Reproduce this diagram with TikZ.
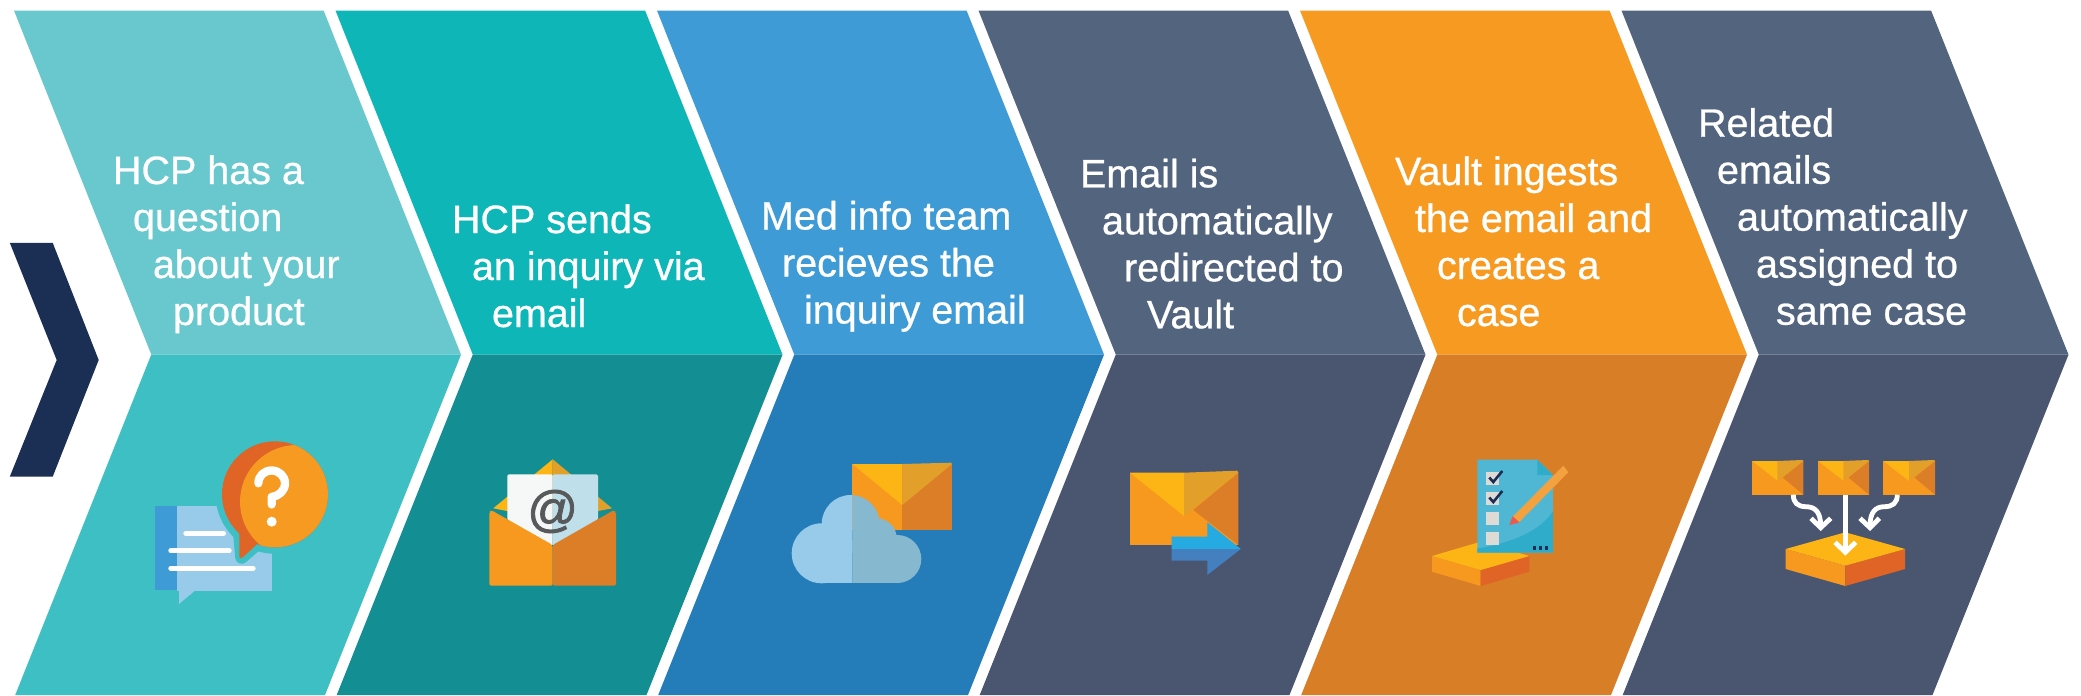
\documentclass[tikz,border=0pt]{standalone}
\usepackage{fontspec}
\setmainfont{Liberation Sans}
\newfontfamily\labelfont[FakeBold=0.7]{Liberation Sans}
\newfontfamily\atfont[FakeBold=1.6]{Liberation Sans}
\definecolor{cAt}{HTML}{69C8CE}\definecolor{cAb}{HTML}{3DBFC4}
\definecolor{cBt}{HTML}{0EB6B7}\definecolor{cBb}{HTML}{138E92}
\definecolor{cCt}{HTML}{3E9BD6}\definecolor{cCb}{HTML}{247DB9}
\definecolor{cDt}{HTML}{53647F}\definecolor{cDb}{HTML}{4A566F}
\definecolor{cEt}{HTML}{F79A21}\definecolor{cEb}{HTML}{D87E27}
\definecolor{navy}{HTML}{1B2F55}
\definecolor{flapL}{HTML}{FDB515}\definecolor{flapR}{HTML}{E2A02A}
\definecolor{bodyL}{HTML}{F7981F}\definecolor{bodyR}{HTML}{DB7E27}
\definecolor{burnt}{HTML}{DF6426}
\definecolor{cloudL}{HTML}{97CBE9}\definecolor{cloudR}{HTML}{86B8CF}
\definecolor{docblue}{HTML}{3E9BD6}
\definecolor{sheetR}{HTML}{BFDFEA}\definecolor{sheetL}{HTML}{F6F8F8}
\definecolor{grayat}{HTML}{58595B}
\definecolor{clipA}{HTML}{4FB7D3}\definecolor{clipB}{HTML}{30ACCB}
\definecolor{boxgray}{HTML}{DEDAD6}
\definecolor{pencil}{HTML}{F4A23F}\definecolor{pencilred}{HTML}{EB5A4C}
\definecolor{arrowA}{HTML}{25AAE1}\definecolor{arrowB}{HTML}{447FC0}
\tikzset{
  steptext/.style={anchor=north west,inner sep=0pt,outer sep=0pt,align=left,text=white,
    font=\labelfont\fontsize{39.5}{47}\selectfont},
  whiteline/.style={draw=white,line width=4.8pt,line cap=butt,line join=miter},
  docline/.style={draw=white,line width=5pt,line cap=round},
}
% #1 left x of the chevron, #2 upper colour, #3 lower colour
\newcommand{\chevron}[3]{%
  \fill[#2] (#1,10.6) -- (#1+309.6,10.6) -- (#1+447,354.6) -- (#1+137.3,354.6) -- cycle;
  \fill[#3] (#1+137.3,354.6) -- (#1+447,354.6) -- (#1+311,695) -- (#1+1.2,695) -- cycle;
}
% flaps of an envelope: #1 left, #2 centre, #3 right, #4 top left, #5 top right, #6 apex y
\newcommand{\flaps}[6]{%
  \fill[flapL] (#1,#4) -- (#2,#4) -- (#2,#6) -- cycle;
  \fill[flapR] (#2,#4) -- (#3-1,#5) -- (#3,#4) -- (#2,#6) -- cycle;
}
% small envelope, #1 left, #2 right, #3 centre
\newcommand{\minienvelope}[3]{%
  \fill[bodyL] (#1,461) rectangle (#2,494.7);
  \fill[bodyR] (#2,461) -- (#2-20.5,477.5) -- (#2,494.7) -- cycle;
  \flaps{#1}{#3}{#2}{461}{460}{481}
}
\newcommand{\cloudshape}{%
  \fill (821.7,553.3) circle[radius=30];
  \fill (850.7,524) circle[radius=29];
  \fill (876.7,538.3) circle[radius=20];
  \fill (897.3,559) circle[radius=24];
  \fill (821.7,540) rectangle (897.3,583.3);
}
% isometric box: #1 left, #2 centre, #3 right, #4 back y, #5 side y, #6 front y, #7 side bottom, #8 front bottom
\newcommand{\slab}[8]{%
  \fill[bodyL] (#1,#5) -- (#2,#6) -- (#2,#8) -- (#1,#7) -- cycle;
  \fill[burnt] (#2,#6) -- (#3,#5) -- (#3,#7) -- (#2,#8) -- cycle;
  \fill[flapL] (#1,#5) -- (#2,#4) -- (#3,#5) -- (#2,#6) -- cycle;
}
\begin{document}
\begin{tikzpicture}[x=1pt,y=-1pt]
\useasboundingbox (0,0) rectangle (2081,696);
\fill[white] (0,0) rectangle (2081,696);

% lead-in chevron
\fill[navy] (9.8,242.8) -- (52.7,242.8) -- (98.7,360) -- (52.7,476.7) -- (9.8,476.7) -- (56.7,360) -- cycle;

% chevrons
\chevron{14}{cAt}{cAb}
\chevron{335.5}{cBt}{cBb}
\chevron{657}{cCt}{cCb}
\chevron{978.5}{cDt}{cDb}
\chevron{1300}{cEt}{cEb}
\chevron{1621.5}{cDt}{cDb}

% texts
\node[steptext] (t1) at (113,154) {\rule{0pt}{30pt}HCP has a\\\hspace*{20pt}question\\\hspace*{40pt}about your\\\hspace*{60pt}product};
\node[steptext] (t2) at (452,203) {\rule{0pt}{30pt}HCP sends\\\hspace*{20pt}an inquiry via\\\hspace*{40pt}email};
\node[steptext] (t3) at (761,199.5) {\rule{0pt}{30pt}Med info team\\\hspace*{21pt}recieves the\\\hspace*{43pt}inquiry email};
\node[steptext] (t4) at (1080,157.3) {\rule{0pt}{30pt}Email is\\\hspace*{22pt}automatically\\\hspace*{44pt}redirected to\\\hspace*{67pt}Vault};
\node[steptext] (t5) at (1395,155) {\rule{0pt}{30pt}Vault ingests\\\hspace*{20pt}the email and\\\hspace*{42pt}creates a\\\hspace*{62pt}case};
\node[steptext] (t6) at (1698,106.7) {\rule{0pt}{30pt}Related\\\hspace*{19pt}emails\\\hspace*{39pt}automatically\\\hspace*{58pt}assigned to\\\hspace*{78pt}same case};

% icon 1: document and question bubble
\fill[docblue] (155,506) rectangle (176.7,590);
\fill[cloudL] (176.7,506) rectangle (272.3,590.7);
\fill[cloudL] (179,590) -- (195.7,590) -- (179,604) -- cycle;
\draw[docline] (185.8,533.3) -- (223.5,533.3);
\draw[docline] (170.8,550.7) -- (229.2,550.7);
\draw[docline] (170.8,568.3) -- (253.2,568.3);
\begin{scope}
  \clip (155,440) rectangle (272.3,590);
  \draw[cAb,line width=13pt,line join=round] (275,494.3) circle[radius=53];
  \draw[cAb,line width=13pt,line join=round] (239.3,530) -- (241.7,557.3) -- (258,543) -- cycle;
\end{scope}
\fill[burnt] (275,494.3) circle[radius=53];
\fill[burnt,rounded corners=1.5pt] (239.3,530) -- (239.3,558.5) -- (242,558) -- (258,543.3) -- cycle;
\begin{scope}
  \clip (275,494.3) circle[radius=53];
  \fill[cEt] (296.7,501.7) circle[radius=56.7];
\end{scope}
\draw[white,line width=8.3pt,line cap=round,line join=round]
  (258.4,483.3) .. controls (258.4,476) and (264,470.5) .. (271.7,470.5)
  .. controls (279,470.5) and (285,476) .. (285,483.3)
  .. controls (285,490.6) and (279,496) .. (271.7,497) -- (271.7,504.5);
\fill[white] (271.7,521.7) circle[radius=5];

% icon 2: open envelope with @
\fill[flapL] (552.7,459.3) -- (552.7,520) -- (493.3,508.3) -- cycle;
\fill[flapR] (552.7,459.3) -- (612,508.3) -- (552.7,520) -- cycle;
\fill[sheetL,rounded corners=1.5pt] (552.7,474.3) -- (507.3,474.3) -- (507.3,520) -- (552.7,546) -- cycle;
\fill[sheetR,rounded corners=1.5pt] (552.7,474.3) -- (598,474.3) -- (598,520) -- (552.7,546) -- cycle;
\node[inner sep=0pt,text=grayat,font=\atfont\fontsize{50}{50}\selectfont] (at) at (552.7,511.5) {@};
\fill[bodyL,rounded corners=2pt] (552.7,545) -- (491,510) -- (489.3,512) -- (489.3,585.7) -- (552.7,585.7) -- cycle;
\fill[bodyR,rounded corners=2pt] (552.7,545) -- (614,510) -- (616,512) -- (616,585.7) -- (552.7,585.7) -- cycle;

% icon 3: cloud and envelope
\fill[bodyL] (852.3,464) rectangle (902.3,530.3);
\fill[bodyR] (902.3,464) rectangle (952,530.3);
\flaps{852.3}{902.3}{952}{464}{462.7}{505}
\begin{scope}[fill=cloudL]
  \clip (780,450) rectangle (852.3,600);
  \cloudshape
\end{scope}
\begin{scope}[fill=cloudR]
  \clip (852.3,450) rectangle (950,600);
  \cloudshape
\end{scope}

% icon 4: envelope and arrow
\fill[bodyL] (1130,472.7) rectangle (1238.3,545);
\fill[bodyR] (1238.3,472.7) -- (1193.3,510) -- (1238.3,545) -- cycle;
\flaps{1130}{1184}{1238.3}{472.7}{470.7}{516}
\fill[arrowA] (1171.7,536.7) -- (1207.3,536.7) -- (1207.3,522.3) -- (1240.7,549) -- (1171.7,549) -- cycle;
\fill[arrowB] (1171.7,549) -- (1240.7,549) -- (1207.3,575) -- (1207.3,560.7) -- (1171.7,560.7) -- cycle;

% icon 5: box and checklist
\slab{1432}{1480.7}{1529.3}{541.7}{556}{570}{571.7}{586}
\fill[clipA] (1477.3,459.7) -- (1537.3,459.7) -- (1553,475) -- (1553,552.7) -- (1477.3,552.7) -- cycle;
\fill[clipB] (1477.3,548.5) .. controls (1510,543) and (1540,532) .. (1553,511) -- (1553,552.7) -- (1477.3,552.7) -- cycle;
\fill[clipB] (1537.3,459.7) -- (1553,475) -- (1537.3,475) -- cycle;
\fill[boxgray] (1486,472.3) rectangle (1499.3,485);
\fill[boxgray] (1486,492.3) rectangle (1499.3,505);
\fill[boxgray] (1486,512.3) rectangle (1499.3,525);
\fill[boxgray] (1486,532.3) rectangle (1499.3,545);
\draw[navy,line width=2.6pt] (1489.3,477.5) -- (1493.3,482) -- (1502.3,471);
\draw[navy,line width=2.6pt] (1489.3,497.5) -- (1493.3,502) -- (1502.3,491);
\fill[pencil] (1512.7,516.7) -- (1563.3,465.7) -- (1568.3,472.3) -- (1519,522.3) -- cycle;
\fill[pencilred] (1509.3,525) -- (1512.7,516) -- (1519.3,522.5) -- cycle;
\fill[navy] (1532.6,546.3) rectangle (1536,549.7);
\fill[navy] (1538.6,546.3) rectangle (1542,549.7);
\fill[navy] (1545,546.3) rectangle (1548.4,549.7);

% icon 6: three envelopes merge in one box
\minienvelope{1752.3}{1803.3}{1777.7}
\minienvelope{1818}{1869}{1843.7}
\minienvelope{1883.3}{1935}{1909}
\slab{1785.7}{1845.3}{1905}{532.3}{549}{565.7}{569}{586}
\draw[whiteline] (1845.3,494.7) -- (1845.3,551);
\draw[whiteline] (1835,542.3) -- (1845.3,552.3) -- (1855.7,542.3);
\draw[whiteline] (1793.3,494.7) .. controls (1793.3,503) and (1798,506.7) .. (1806,506.7)
  .. controls (1815,506.7) and (1820.7,512) .. (1820.7,526);
\draw[whiteline] (1811,518.3) -- (1820.7,527.7) -- (1830.7,518.3);
\draw[whiteline] (1897.3,494.7) .. controls (1897.3,503) and (1892.5,506.7) .. (1884.5,506.7)
  .. controls (1875.5,506.7) and (1870,512) .. (1870,526);
\draw[whiteline] (1860,518.3) -- (1870,527.7) -- (1879.3,518.3);
\end{tikzpicture}
\end{document}
